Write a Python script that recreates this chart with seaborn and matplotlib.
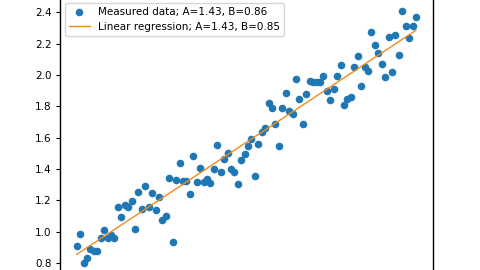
import numpy as np
import pandas as pd
import matplotlib
matplotlib.use("Agg")
import matplotlib.pyplot as plt
import seaborn as sns

# ---- data ----
n_points = 100
measured_y = [
    0.907, 0.985, 0.803, 0.832, 0.889, 0.877, 0.877, 0.961, 1.011, 0.961,
    0.979, 0.961, 1.157, 1.092, 1.167, 1.155, 1.198, 1.017, 1.251, 1.145,
    1.291, 1.155, 1.249, 1.138, 1.223, 1.074, 1.097, 1.344, 0.936, 1.330,
    1.440, 1.323, 1.323, 1.242, 1.483, 1.317, 1.408, 1.317, 1.334, 1.309,
    1.398, 1.555, 1.383, 1.462, 1.504, 1.398, 1.383, 1.304, 1.457, 1.498,
    1.549, 1.591, 1.357, 1.559, 1.639, 1.660, 1.824, 1.787, 1.684, 1.549,
    1.787, 1.883, 1.767, 1.748, 1.974, 1.845, 1.689, 1.877, 1.961, 1.958,
    1.958, 1.957, 1.993, 1.900, 1.840, 1.909, 1.991, 2.064, 1.808, 1.847,
    1.861, 2.053, 2.124, 1.931, 2.053, 2.027, 2.272, 2.191, 2.142, 2.068,
    1.989, 2.244, 2.019, 2.255, 2.127, 2.410, 2.314, 2.234, 2.312, 2.368,
]
fit_A = 1.43
fit_B = 0.855
label_measured = "Measured data; A=1.43, B=0.86"
label_fit = "Linear regression; A=1.43, B=0.85"
yticks = [0.8, 1.0, 1.2, 1.4, 1.6, 1.8, 2.0, 2.2, 2.4]

x = np.linspace(0, 1, n_points)
df = pd.DataFrame({"x": x, "y": measured_y})
fit_df = pd.DataFrame({"x": x, "y": fit_A * x + fit_B})

fig = plt.figure(figsize=(4.8, 2.7), dpi=100)
ax = fig.add_axes([0.125, -0.0204, 0.7765, 1.0271])

sns.scatterplot(data=df, x="x", y="y", ax=ax, s=30, color="#1f77b4",
                edgecolor="#1f77b4", linewidth=0, label=label_measured, zorder=2)
sns.lineplot(data=fit_df, x="x", y="y", ax=ax, color="#f08a1e", linewidth=1.0,
             label=label_fit, zorder=3)

ax.set_xlim(-0.0495, 1.0495)
ax.set_ylim(0.72, 2.49)
ax.set_yticks(yticks)
ax.set_yticklabels([f"{t:.1f}" for t in yticks])
ax.tick_params(axis="y", labelsize=7.5, length=3, width=0.8, pad=3)
ax.tick_params(axis="x", labelbottom=False, length=0)
ax.set_xlabel("")
ax.set_ylabel("")
for sp in ax.spines.values():
    sp.set_linewidth(1.0)
    sp.set_color("black")

ax.legend(loc="upper left", fontsize=7.5, frameon=True, borderaxespad=0.45,
          handlelength=2.0, labelspacing=0.45)

fig.savefig("out.png", dpi=100)
